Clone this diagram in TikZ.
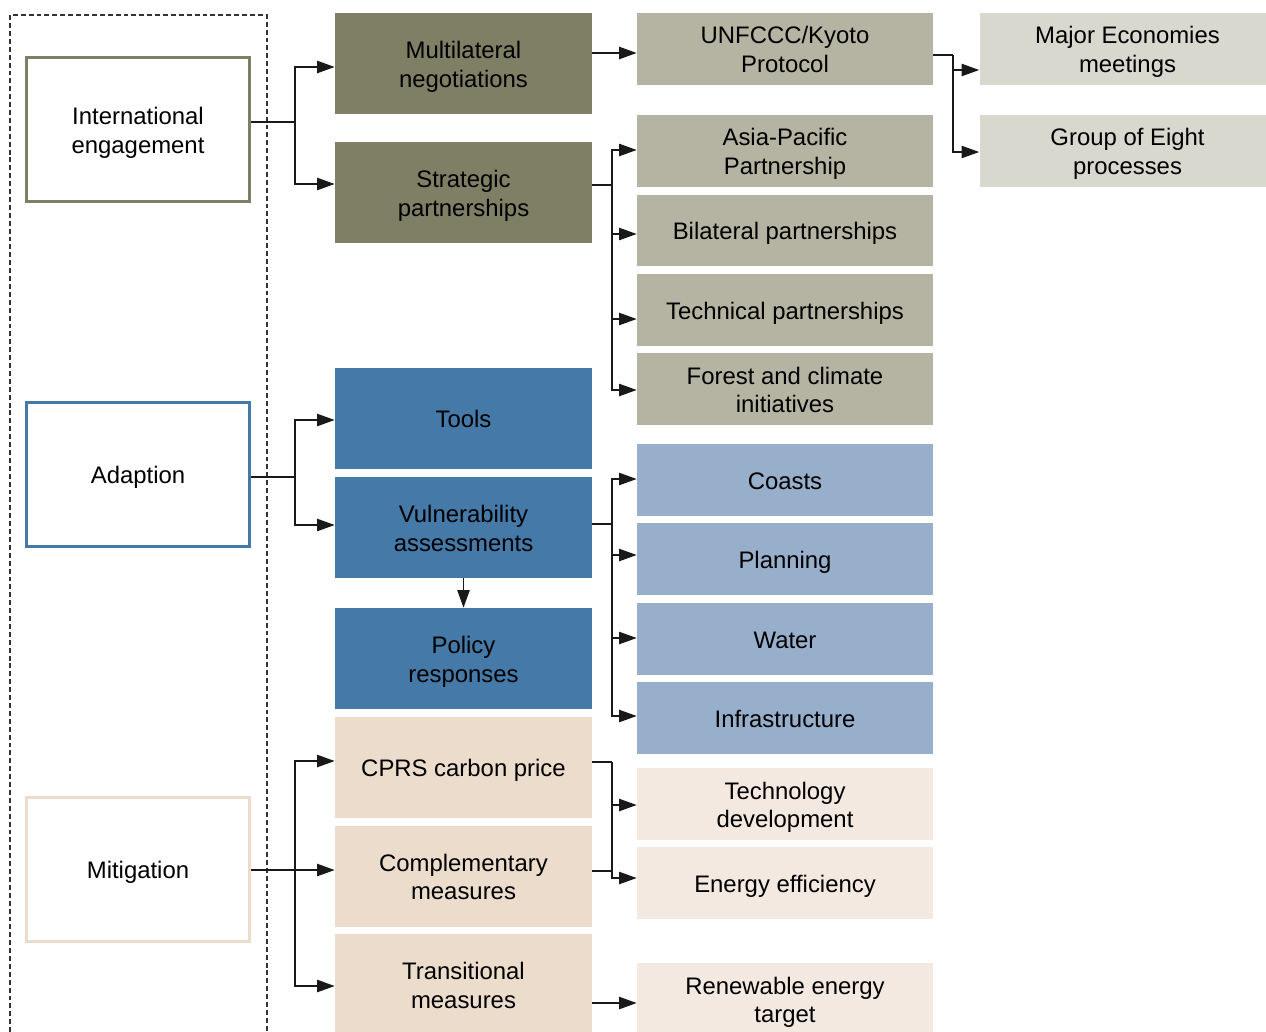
\documentclass[tikz,border=0pt]{standalone}
\usepackage{fontspec}
\setmainfont{Liberation Sans}
\usetikzlibrary{arrows.meta,positioning}

\definecolor{olivedark}{HTML}{7F7F65}
\definecolor{olivemid}{HTML}{B5B4A3}
\definecolor{olivelight}{HTML}{D9D8CF}
\definecolor{bluedark}{HTML}{4479A8}
\definecolor{bluemid}{HTML}{98AFCC}
\definecolor{sanddark}{HTML}{ECDCCC}
\definecolor{sandlight}{HTML}{F4E9E1}

% strut for the first line of a two-line box
\newcommand{\hitop}{\rule{0pt}{13.6pt}}

\begin{document}
\begin{tikzpicture}[x=0.02cm, y=-0.02cm,
    box/.style={rectangle, align=center, inner sep=2pt, font=\fontsize{13.6}{16.4}\selectfont,
        execute at begin node={\rule{0pt}{13.6pt}}, execute at end node={\rule[-2.9pt]{0pt}{2.9pt}}},
    lead/.style={box, draw, line width=1.6pt, fill=white, minimum width=4.46cm, minimum height=2.88cm},
    mid/.style={box, minimum width=5.14cm, minimum height=2.02cm},
    leaf/.style={box, minimum width=5.92cm, minimum height=1.44cm},
    link/.style={draw=black!90, line width=0.8pt},
    arr/.style={link, -{Triangle[length=10pt,width=7pt]}}]
    \useasboundingbox (0,0) rectangle (1266,1031);

    % dashed frame round the three areas
    \draw[dashed, dash pattern=on 2.8pt off 1.7pt, line width=0.8pt, black!80] (10,1040) -- (10,15) -- (267,15) -- (267,1040);

    % areas
    \node[lead, draw=olivedark] (intl) at (138,129.5) {\hitop International\\engagement};
    \node[lead, draw=bluedark] (adapt) at (138,474.5) {Adaption};
    \node[lead, draw=sanddark] (mitig) at (138,869.5) {Mitigation};

    % second column
    \node[mid, fill=olivedark] (multi) at (463.5,63.5) {\hitop Multilateral\\negotiations};
    \node[mid, fill=olivedark] (strat) at (463.5,192.5) {\hitop Strategic\\partnerships};
    \node[mid, fill=bluedark] (tools) at (463.5,418.5) {Tools};
    \node[mid, fill=bluedark] (vuln) at (463.5,527.5) {\hitop Vulnerability\\assessments};
    \node[mid, fill=bluedark] (policy) at (463.5,658.5) {\hitop Policy\\responses};
    \node[mid, fill=sanddark] (cprs) at (463.5,767.5) {CPRS carbon price};
    \node[mid, fill=sanddark] (compl) at (463.5,876) {\hitop Complementary\\measures};
    \node[mid, fill=sanddark] (trans) at (463.5,984.5) {\hitop Transitional\\measures};

    % third column
    \node[leaf, fill=olivemid] (unfccc) at (785,49) {\hitop UNFCCC/Kyoto\\Protocol};
    \node[leaf, fill=olivemid] (asia) at (785,151) {\hitop Asia-Pacific\\Partnership};
    \node[leaf, fill=olivemid] (bilat) at (785,230.5) {Bilateral partnerships};
    \node[leaf, fill=olivemid] (techp) at (785,310) {Technical partnerships};
    \node[leaf, fill=olivemid] (forest) at (785,389) {\hitop Forest and climate\\initiatives};
    \node[leaf, fill=bluemid] (coasts) at (785,480) {Coasts};
    \node[leaf, fill=bluemid] (plan) at (785,559) {Planning};
    \node[leaf, fill=bluemid] (water) at (785,639) {Water};
    \node[leaf, fill=bluemid] (infra) at (785,718) {Infrastructure};
    \node[leaf, fill=sandlight] (techdev) at (785,804) {\hitop Technology\\development};
    \node[leaf, fill=sandlight] (energy) at (785,883) {Energy efficiency};
    \node[leaf, fill=sandlight] (renew) at (785,999) {\hitop Renewable energy\\target};

    % fourth column (runs past the right edge)
    \node[leaf, fill=olivelight] (major) at (1127.5,49) {\hitop Major Economies\\meetings};
    \node[leaf, fill=olivelight] (geight) at (1127.5,151) {\hitop Group of Eight\\processes};

    % junctions
    \coordinate (jI) at (295,122);
    \coordinate (jU) at (953,55);
    \coordinate (jS) at (612,185);
    \coordinate (jA) at (295,477);
    \coordinate (jV) at (612,524);
    \coordinate (jM) at (295,870);
    \coordinate (jC) at (612,762);

    % international engagement
    \draw[link] (intl.east |- jI) -- (jI);
    \draw[arr] (jI) |- (multi.west |- 0,67);
    \draw[arr] (jI) |- (strat.west |- 0,184);
    \draw[arr] (multi.east |- 0,53) -- (unfccc.west |- 0,53);
    \draw[link] (unfccc.east |- jU) -- (jU);
    \draw[arr] (jU) |- (major.west |- 0,70);
    \draw[arr] (jU) |- (geight.west |- 0,152);
    \draw[link] (strat.east |- jS) -- (jS);
    \draw[arr] (jS) |- (asia.west |- 0,150);
    \draw[arr] (jS) |- (bilat.west |- 0,234);
    \draw[arr] (jS) |- (techp.west |- 0,319);
    \draw[arr] (jS) |- (forest.west |- 0,390);

    % adaption
    \draw[link] (adapt.east |- jA) -- (jA);
    \draw[arr] (jA) |- (tools.west |- 0,420);
    \draw[arr] (jA) |- (vuln.west |- 0,525);
    \draw[arr] (vuln.south) -- (policy.north);
    \draw[link] (vuln.east |- jV) -- (jV);
    \draw[arr] (jV) |- (coasts.west |- 0,479);
    \draw[arr] (jV) |- (plan.west |- 0,555);
    \draw[arr] (jV) |- (water.west |- 0,638);
    \draw[arr] (jV) |- (infra.west |- 0,716);

    % mitigation
    \draw[link] (mitig.east |- jM) -- (jM);
    \draw[arr] (jM) |- (cprs.west |- 0,761);
    \draw[arr] (jM) -- (compl.west |- jM);
    \draw[arr] (jM) |- (trans.west |- 0,986);
    \draw[link] (cprs.east |- jC) -- (jC);
    \draw[arr] (jC) |- (techdev.west |- 0,805);
    \draw[arr] (jC) |- (energy.west |- 0,878);
    \draw[link] (compl.east |- 0,871) -- (jC |- 0,871);
    \draw[arr] (trans.east |- 0,1003) -- (renew.west |- 0,1003);
\end{tikzpicture}
\end{document}
